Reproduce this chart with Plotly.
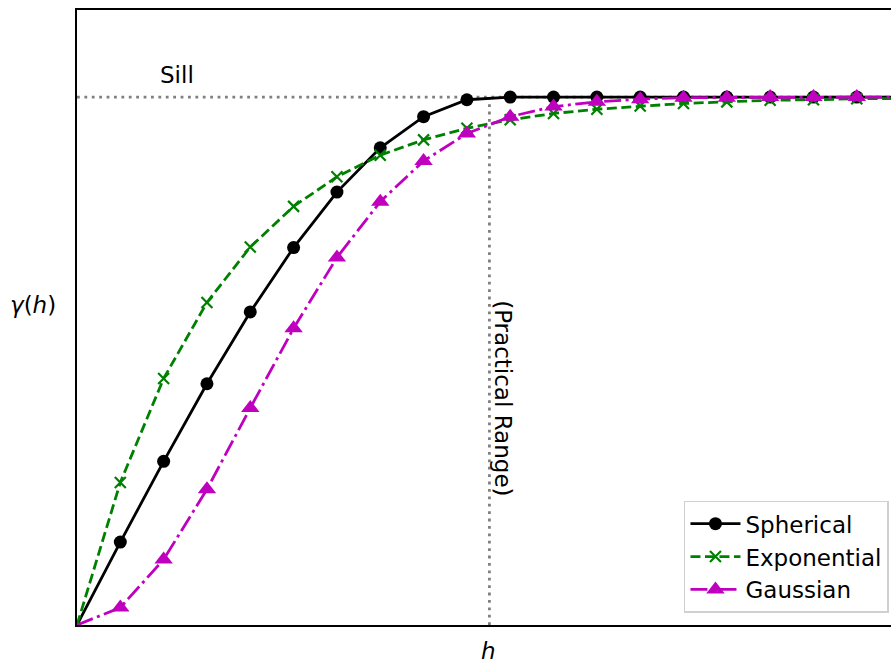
import plotly.graph_objects as go

# lag distance (steps) and model values
h = list(range(20))
spherical = [0, 0.157, 0.310, 0.457, 0.593, 0.715, 0.820, 0.904, 0.963, 0.995,
             1, 1, 1, 1, 1, 1, 1, 1, 1, 1]
exponential = [0, 0.270, 0.467, 0.611, 0.716, 0.793, 0.849, 0.890, 0.919, 0.941,
               0.957, 0.969, 0.977, 0.983, 0.988, 0.991, 0.994, 0.995, 0.997, 0.997]
gaussian = [0, 0.033, 0.124, 0.257, 0.411, 0.562, 0.696, 0.802, 0.879, 0.931,
            0.963, 0.982, 0.991, 0.996, 0.999, 0.999, 1.0, 1.0, 1.0, 1.0]
sill = 1.0
practical_range = 9.52
x_max = 18.79
y_max = 1.165

FONT = "DejaVu Sans"
FS = 23
fig = go.Figure()

# reference lines
fig.add_trace(go.Scatter(x=[0, x_max], y=[sill, sill], mode="lines",
                         line=dict(color="#808080", width=2.8, dash="2.8px,4.6px"),
                         showlegend=False, hoverinfo="skip"))
fig.add_trace(go.Scatter(x=[practical_range, practical_range], y=[0, sill], mode="lines",
                         line=dict(color="#808080", width=2.8, dash="2.8px,4.6px"),
                         showlegend=False, hoverinfo="skip"))

series = [
    ("Spherical", spherical, "black", "solid", "circle", 13, 2.8),
    ("Exponential", exponential, "green", "10px,4.5px", "x-thin", 11, 2.8),
    ("Gaussian", gaussian, "#bf00bf", "17px,4.5px,3px,4.5px", "triangle-up", 16, 2.8),
]

for name, vals, color, dash, sym, size, lw in series:
    fig.add_trace(go.Scatter(x=h, y=vals, mode="lines",
                             line=dict(color=color, width=lw, dash=dash),
                             showlegend=False, hoverinfo="skip"))
    mk = dict(symbol=sym, size=size, color=color)
    if sym == "x-thin":
        mk["line"] = dict(color=color, width=2.2)
    fig.add_trace(go.Scatter(x=h[1:], y=vals[1:], mode="markers", marker=mk,
                             showlegend=False))
    fig.add_trace(go.Scatter(x=[None], y=[None], mode="lines+markers", name=name,
                             line=dict(color=color, width=lw, dash=dash), marker=mk))

fig.add_annotation(x=2.31, y=1.042, xref="x", yref="y", text="Sill", showarrow=False,
                   font=dict(family=FONT, size=FS, color="black"))
fig.add_annotation(x=9.83, y=0.43, xref="x", yref="y", text="(Practical Range)",
                   textangle=90, showarrow=False,
                   font=dict(family=FONT, size=FS, color="black"))
fig.add_annotation(x=0.506, y=-0.042, xref="paper", yref="paper", text="<i>h</i>",
                   showarrow=False, yanchor="middle",
                   font=dict(family=FONT, size=FS, color="black"))
fig.add_annotation(x=-44 / 814, y=(625 - 305) / 615, xref="paper", yref="paper",
                   text="<i>γ</i>(<i>h</i>)", showarrow=False, yanchor="middle",
                   xanchor="center", font=dict(family=FONT, size=FS, color="black"))

fig.update_layout(
    width=891, height=663,
    margin=dict(l=77, r=0, t=10, b=38),
    plot_bgcolor="white", paper_bgcolor="white",
    font=dict(family=FONT, size=FS, color="black"),
    xaxis=dict(range=[0, x_max], showgrid=False, zeroline=False, showticklabels=False,
               ticks="", showline=True, linecolor="black", linewidth=1.5, mirror=True),
    yaxis=dict(range=[0, y_max], showgrid=False, zeroline=False, showticklabels=False,
               ticks="", showline=True, linecolor="black", linewidth=1.5),
    legend=dict(x=0.9975, y=0.02, xanchor="right", yanchor="bottom",
                bgcolor="rgba(255,255,255,0.8)", bordercolor="#d0d0d0", borderwidth=1.5,
                font=dict(family=FONT, size=FS), itemwidth=50, tracegroupgap=0),
)

fig.write_html("out.html")
